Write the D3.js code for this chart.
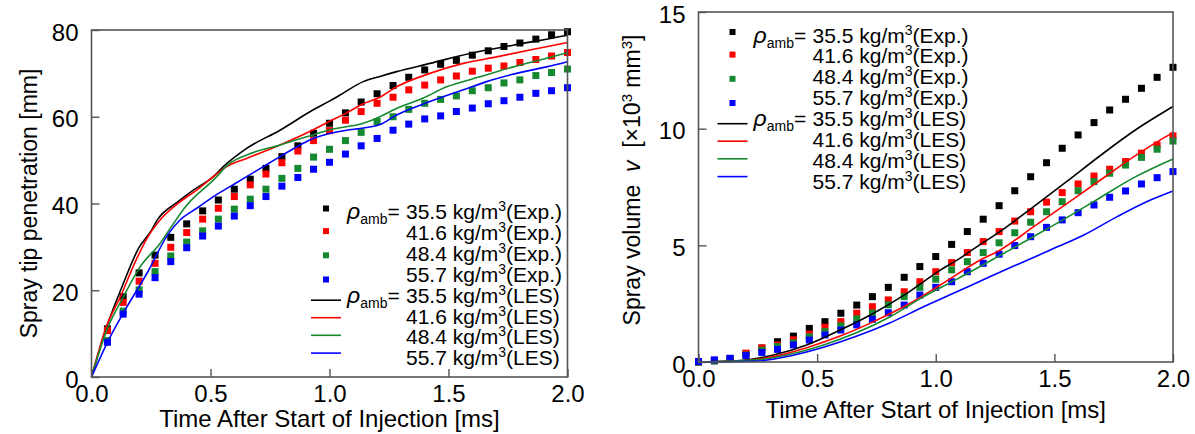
<!DOCTYPE html>
<html>
<head>
<meta charset="utf-8">
<script src="https://cdn.jsdelivr.net/npm/d3@7"></script>
<style>
  body { margin: 0; background: #fff; }
  text { font-family: "Liberation Sans", Arial, sans-serif; fill: #000; }
</style>
</head>
<body>
<script>
// time of each experimental frame [ms]
var timeExp = [0.067, 0.133, 0.2, 0.267, 0.333, 0.4, 0.467, 0.533, 0.6, 0.667,
               0.733, 0.8, 0.867, 0.933, 1.0, 1.067, 1.133, 1.2, 1.267, 1.333,
               1.4, 1.467, 1.533, 1.6, 1.667, 1.733, 1.8, 1.867, 1.933, 2.0];
var timeExpVol = [0].concat(timeExp);

var densities = ["35.5", "41.6", "48.4", "55.7"];
var colors = ["#000000", "#ff0000", "#15892f", "#0000ff"];

// spray tip penetration [mm], experiment
var penExp35 = [11.1, 18.5, 24.0, 28.1, 32.2, 35.3, 38.3, 40.8, 43.3, 45.6, 48.1, 50.8, 53.3, 56.2, 58.5,
                60.9, 63.4, 65.3, 67.2, 69.1, 70.8, 72.1, 73.0, 74.2, 75.2, 76.2, 77.0, 77.9, 78.9, 79.6];
var penExp41 = [10.7, 17.2, 22.1, 26.2, 29.9, 33.3, 36.4, 38.9, 41.6, 44.3, 46.8, 49.4, 52.1, 54.5, 56.8,
                59.2, 61.2, 63.1, 64.5, 66.2, 67.3, 68.5, 69.4, 70.5, 71.2, 71.7, 72.5, 73.2, 74.0, 74.8];
var penExp48 = [8.4, 15.2, 20.1, 24.3, 27.9, 31.1, 33.7, 36.4, 38.7, 41.0, 43.3, 45.8, 48.1, 50.7, 52.5,
                54.5, 56.4, 58.9, 60.0, 61.7, 63.1, 64.0, 64.8, 66.0, 66.7, 67.8, 68.5, 69.5, 70.2, 71.0];
var penExp55 = [8.0, 14.5, 19.1, 22.9, 26.6, 29.8, 32.5, 34.8, 37.1, 39.5, 41.6, 44.0, 46.0, 47.9, 49.5,
                51.4, 53.3, 55.0, 56.9, 58.3, 59.5, 60.2, 61.2, 62.0, 63.0, 63.7, 64.5, 65.4, 66.0, 66.7];

// spray tip penetration [mm], LES  [t, mm]
var penLes35 = [[0, 0], [0.064, 11.6], [0.134, 21.6], [0.197, 29.6], [0.253, 33.9], [0.274, 36.0], [0.358, 40.2],
                [0.428, 43.1], [0.512, 46.2], [0.554, 48.5], [0.652, 52.7], [0.792, 56.9], [0.932, 61.6],
                [1.0, 63.6], [1.044, 65.0], [1.142, 68.1], [1.212, 69.3], [1.282, 70.4], [1.422, 72.3],
                [1.59, 74.6], [1.772, 76.5], [1.982, 78.6], [2.0, 78.8]];
var penLes41 = [[0, 0], [0.057, 10.8], [0.127, 19.2], [0.19, 27.3], [0.246, 33.1], [0.288, 36.2], [0.372, 40.4],
                [0.442, 43.1], [0.512, 46.2], [0.568, 48.5], [0.652, 50.4], [0.792, 53.5], [0.932, 57.0],
                [1.002, 59.0], [1.072, 60.9], [1.142, 63.0], [1.212, 64.5], [1.282, 66.9], [1.422, 70.0],
                [1.562, 72.3], [1.702, 73.8], [1.842, 75.4], [2.0, 77.1]];
var penLes48 = [[0, 0], [0.064, 10.8], [0.134, 18.5], [0.204, 25.4], [0.288, 30.8], [0.33, 34.2], [0.4, 39.6],
                [0.512, 45.4], [0.582, 49.3], [0.652, 51.2], [0.792, 53.5], [0.904, 55.4], [1.002, 57.0],
                [1.142, 58.5], [1.184, 59.3], [1.226, 60.4], [1.282, 61.9], [1.394, 64.3], [1.492, 66.9],
                [1.632, 69.2], [1.772, 71.5], [1.912, 73.5], [2.0, 74.8]];
var penLes55 = [[0, 0], [0.078, 9.2], [0.148, 16.1], [0.232, 23.8], [0.323, 33.0], [0.372, 36.2], [0.442, 38.9],
                [0.512, 41.6], [0.582, 43.9], [0.652, 46.2], [0.722, 48.5], [0.792, 50.8], [0.932, 55.0],
                [1.072, 56.9], [1.128, 57.3], [1.212, 58.2], [1.282, 60.4], [1.422, 63.5], [1.562, 66.2],
                [1.66, 68.1], [1.786, 70.0], [1.912, 71.5], [2.0, 72.7]];

// spray volume [x10^3 mm^3], experiment
var volExp35 = [0, 0.05, 0.15, 0.35, 0.6, 0.87, 1.11, 1.44, 1.73, 2.09, 2.44, 2.80, 3.20, 3.63, 4.09, 4.52,
                5.04, 5.59, 6.12, 6.70, 7.34, 7.94, 8.54, 9.16, 9.73, 10.26, 10.80, 11.26, 11.73, 12.20, 12.63];
var volExp41 = [0, 0.07, 0.15, 0.38, 0.6, 0.73, 0.95, 1.2, 1.49, 1.73, 2.09, 2.37, 2.66, 3.01, 3.44, 3.87,
                4.26, 4.69, 5.16, 5.59, 6.04, 6.44, 6.85, 7.26, 7.63, 7.97, 8.26, 8.59, 8.95, 9.30, 9.69];
var volExp48 = [0, 0.05, 0.13, 0.3, 0.5, 0.66, 0.82, 1.08, 1.3, 1.55, 1.85, 2.1, 2.45, 2.8, 3.2, 3.55,
                3.95, 4.3, 4.69, 5.11, 5.54, 5.99, 6.44, 6.87, 7.34, 7.73, 8.09, 8.44, 8.77, 9.12, 9.47];
var volExp55 = [0.02, 0.09, 0.16, 0.28, 0.41, 0.54, 0.73, 0.94, 1.16, 1.37, 1.59, 1.83, 2.11, 2.44, 2.87, 3.2,
                3.44, 3.87, 4.23, 4.62, 4.99, 5.37, 5.77, 6.09, 6.40, 6.73, 7.06, 7.33, 7.63, 7.90, 8.16];

// spray volume, LES  [t, x10^3 mm^3]
var volLes35 = [[0, 0], [0.175, 0.06], [0.316, 0.30], [0.456, 0.73], [0.597, 1.37], [0.738, 2.09], [0.878, 2.94],
                [1.019, 3.94], [1.103, 4.45], [1.16, 4.85], [1.272, 5.6], [1.413, 6.66], [1.554, 7.75],
                [1.694, 8.85], [1.835, 9.9], [2.0, 10.95]];
var volLes41 = [[0, 0], [0.175, 0.04], [0.316, 0.23], [0.456, 0.61], [0.597, 1.11], [0.738, 1.73], [0.878, 2.44],
                [1.019, 3.30], [1.188, 4.37], [1.272, 4.80], [1.413, 5.80], [1.554, 6.80], [1.694, 7.80],
                [1.835, 8.80], [1.947, 9.52], [2.0, 9.83]];
var volLes48 = [[0, 0], [0.246, 0.09], [0.386, 0.33], [0.527, 0.73], [0.668, 1.26], [0.808, 1.94], [0.949, 2.80],
                [1.089, 3.55], [1.25, 4.45], [1.413, 5.38], [1.554, 6.2], [1.694, 7.05], [1.835, 7.9], [2.0, 8.7]];
var volLes55 = [[0, 0], [0.246, 0.04], [0.386, 0.26], [0.527, 0.63], [0.668, 1.11], [0.808, 1.68], [0.949, 2.37],
                [1.089, 3.01], [1.23, 3.66], [1.371, 4.30], [1.483, 4.80], [1.624, 5.44], [1.765, 6.23],
                [1.905, 6.94], [2.0, 7.33]];

var timeTicks = [0, 0.5, 1.0, 1.5, 2.0];
var penTicks = [0, 20, 40, 60, 80];
var volTicks = [0, 5, 10, 15];

function init() {
    var w = 1195;
    var h = 434;

    var svg = d3.select("body")
                .append("svg")
                .attr("width", w)
                .attr("height", h);

    svg.append("rect").attr("width", w).attr("height", h).attr("fill", "#fff");

    // left panel: penetration
    var left = {
        x0: 91.5, x1: 567.5, y0: 377, y1: 30,
        ymax: 80, yTicks: penTicks,
        exp: [penExp35, penExp41, penExp48, penExp55], times: timeExp,
        les: [penLes35, penLes41, penLes48, penLes55],
        legX: 326, legY: 211.5,
        xTitleY: 427, yTitleX: 37
    };
    // right panel: volume
    var right = {
        x0: 698.5, x1: 1173, y0: 362, y1: 12,
        ymax: 15, yTicks: volTicks,
        exp: [volExp35, volExp41, volExp48, volExp55], times: timeExpVol,
        les: [volLes35, volLes41, volLes48, volLes55],
        legX: 732.5, legY: 35,
        xTitleY: 418, yTitleX: 640
    };

    drawPanel(svg, left);
    drawPanel(svg, right);

    // axis titles
    svg.append("text")
        .attr("transform", "translate(" + left.yTitleX + "," + ((left.y0 + left.y1) / 2) + ") rotate(-90)")
        .attr("text-anchor", "middle")
        .style("font-size", "23px")
        .text("Spray tip penetration [mm]");

    var vt = svg.append("text")
        .attr("transform", "translate(" + right.yTitleX + ",180) rotate(-90)")
        .attr("text-anchor", "middle")
        .style("font-size", "23px")
        .style("white-space", "pre");
    vt.append("tspan").text("Spray volume  ");
    vt.append("tspan").style("font-style", "italic").text("v");
    vt.append("tspan").text("  [\u00d710");
    vt.append("tspan").attr("dy", -8).style("font-size", "15px").text("3");
    vt.append("tspan").attr("dy", 8).text(" mm");
    vt.append("tspan").attr("dy", -8).style("font-size", "15px").text("3");
    vt.append("tspan").attr("dy", 8).text("]");
}

function drawPanel(svg, p) {
    var xScale = d3.scaleLinear().domain([0, 2]).range([p.x0, p.x1]);
    var yScale = d3.scaleLinear().domain([0, p.ymax]).range([p.y0, p.y1]);

    // experimental squares
    var sq = 7;
    p.exp.forEach(function (series, i) {
        svg.append("g")
            .attr("fill", colors[i])
            .selectAll("rect")
            .data(series)
            .enter()
            .append("rect")
            .attr("x", function (d, j) { return xScale(p.times[j]) - sq / 2; })
            .attr("y", function (d) { return yScale(d) - sq / 2; })
            .attr("width", sq)
            .attr("height", sq);
    });

    // LES lines
    var line = d3.line()
        .x(function (d) { return xScale(d[0]); })
        .y(function (d) { return yScale(d[1]); })
        .curve(d3.curveMonotoneX);
    p.les.forEach(function (series, i) {
        svg.append("path")
            .datum(series)
            .attr("fill", "none")
            .attr("stroke", colors[i])
            .attr("stroke-width", 1.6)
            .attr("d", line);
    });

    // frame
    svg.append("rect")
        .attr("x", p.x0).attr("y", p.y1)
        .attr("width", p.x1 - p.x0).attr("height", p.y0 - p.y1)
        .attr("fill", "none")
        .attr("stroke", "#555")
        .attr("stroke-width", 1.6);

    // axes, inward ticks
    var xAxis = svg.append("g")
        .attr("transform", "translate(0," + p.y0 + ")")
        .call(d3.axisBottom(xScale).tickValues(timeTicks).tickFormat(d3.format(".1f"))
              .tickSize(-8).tickPadding(8));
    var yAxis = svg.append("g")
        .attr("transform", "translate(" + p.x0 + ",0)")
        .call(d3.axisLeft(yScale).tickValues(p.yTicks).tickSize(-8).tickPadding(13));
    [xAxis, yAxis].forEach(function (ax) {
        ax.select(".domain").remove();
        ax.selectAll("line").attr("stroke", "#555").attr("stroke-width", 1.4);
        ax.selectAll("text").style("font-size", "24px").attr("fill", "#000");
    });
    yAxis.selectAll("text").attr("dy", "0.42em");

    svg.append("text")
        .attr("x", (p.x0 + p.x1) / 2)
        .attr("y", p.xTitleY)
        .attr("text-anchor", "middle")
        .style("font-size", "24px")
        .text("Time After Start of Injection [ms]");

    drawLegend(svg, p.legX, p.legY);
}

function drawLegend(svg, mx, ty) {
    var rowH = 20.9;
    var markerOff = [-3, 19.6, 43.8, 68];
    var lineOff = [88.7, 106.2, 123.8, 141.6];
    var g = svg.append("g");

    densities.forEach(function (dens, i) {
        g.append("rect")
            .attr("x", mx - 3).attr("y", ty + markerOff[i] - 3)
            .attr("width", 6).attr("height", 6)
            .attr("fill", colors[i]);
        g.append("line")
            .attr("x1", mx - 15).attr("x2", mx + 15)
            .attr("y1", ty + lineOff[i]).attr("y2", ty + lineOff[i])
            .attr("stroke", colors[i]).attr("stroke-width", 1.6);
    });

    ["Exp.", "LES"].forEach(function (kind, k) {
        densities.forEach(function (dens, i) {
            var base = ty + (k * 4 + i) * rowH + 7.5;
            if (i === 0) {
                var r = g.append("text").attr("x", mx + 21).attr("y", base).style("font-size", "21px");
                r.append("tspan").style("font-style", "italic").style("font-size", "23px").text("\u03c1");
                r.append("tspan").attr("dy", 5).style("font-size", "14px").text("amb");
                r.append("tspan").attr("dy", -5).text("=");
            }
            var t = g.append("text").attr("x", mx + 80).attr("y", base).style("font-size", "21px");
            t.append("tspan").text(dens + " kg/m");
            t.append("tspan").attr("dy", -8).style("font-size", "14px").text("3");
            t.append("tspan").attr("dy", 8).text("(" + kind + ")");
        });
    });
}

window.onload = init;
</script>
</body>
</html>
